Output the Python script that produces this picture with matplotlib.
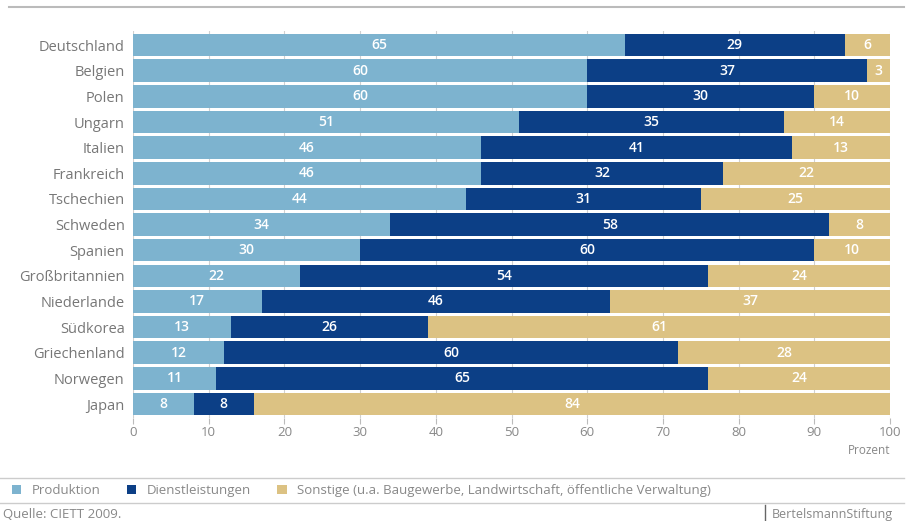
import matplotlib.pyplot as plt
import numpy as np

plt.rcParams['font.family'] = ['Open Sans', 'DejaVu Sans']

laender = ['Deutschland', 'Belgien', 'Polen', 'Ungarn', 'Italien', 'Frankreich',
           'Tschechien', 'Schweden', 'Spanien', 'Großbritannien', 'Niederlande',
           'Südkorea', 'Griechenland', 'Norwegen', 'Japan']
produktion = [65, 60, 60, 51, 46, 46, 44, 34, 30, 22, 17, 13, 12, 11, 8]
dienstleistungen = [29, 37, 30, 35, 41, 32, 31, 58, 60, 54, 46, 26, 60, 65, 8]
sonstige = [6, 3, 10, 14, 13, 22, 25, 8, 10, 24, 37, 61, 28, 24, 84]

serien = ['Produktion', 'Dienstleistungen',
          'Sonstige (u.a. Baugewerbe, Landwirtschaft, öffentliche Verwaltung)']
farben = ['#7db3cf', '#0c3f86', '#dcc283']
x_ticks = [0, 10, 20, 30, 40, 50, 60, 70, 80, 90, 100]

fig = plt.figure(figsize=(9.13, 5.21), dpi=100)
ax = fig.add_axes([0.1457, 0.1975, 0.8291, 0.743])

y = np.arange(len(laender))
links = np.zeros(len(laender))
for werte, farbe, name in zip([produktion, dienstleistungen, sonstige], farben, serien):
    werte = np.array(werte)
    ax.barh(y, werte, left=links, height=0.88, color=farbe, label=name, zorder=2)
    for yi, l, w in zip(y, links, werte):
        ax.text(l + w / 2, yi, str(w), ha='center', va='center', color='white',
                fontsize=10, fontweight='semibold', zorder=3)
    links = links + werte

ax.set_xlim(0, 100)
ax.set_ylim(len(laender) - 0.45, -0.55)
ax.set_yticks(y)
ax.set_yticklabels(laender, fontsize=10.5, color='#777777')
ax.set_xticks(x_ticks)
ax.set_xticklabels([str(t) for t in x_ticks], fontsize=9.5, color='#888888')
ax.tick_params(axis='y', length=0, pad=6)
ax.tick_params(axis='x', length=4, color='#bbbbbb', pad=2)
ax.grid(axis='x', color='#d0d0d0', linewidth=0.8, zorder=0)
for s in ax.spines.values():
    s.set_visible(False)

fig.text(0.975, 0.136, 'Prozent', ha='right', va='center', fontsize=8.5, color='#888888')

# Linien oben und unten
fig.add_artist(plt.Line2D([0.01, 0.99], [0.987, 0.987], color='#bbbbbb', linewidth=1.5))
fig.add_artist(plt.Line2D([0.0, 0.99], [0.083, 0.083], color='#cccccc', linewidth=1))
fig.add_artist(plt.Line2D([0.0, 0.99], [0.035, 0.035], color='#cccccc', linewidth=1))

handles, labels = ax.get_legend_handles_labels()
fig.legend(handles, labels, loc='center left', bbox_to_anchor=(0.0, 0.058), ncol=3,
           frameon=False, fontsize=9.5, handlelength=0.7, handleheight=0.7,
           columnspacing=2.0, handletextpad=0.8, labelcolor='#888888')

fig.text(0.003, 0.012, 'Quelle: CIETT 2009.', ha='left', va='center', fontsize=9.5, color='#888888')
fig.add_artist(plt.Line2D([0.838, 0.838], [0.0, 0.03], color='#666666', linewidth=1))
fig.text(0.845, 0.012, 'BertelsmannStiftung', ha='left', va='center', fontsize=9, color='#888888')

fig.savefig('out.png', dpi=100)
